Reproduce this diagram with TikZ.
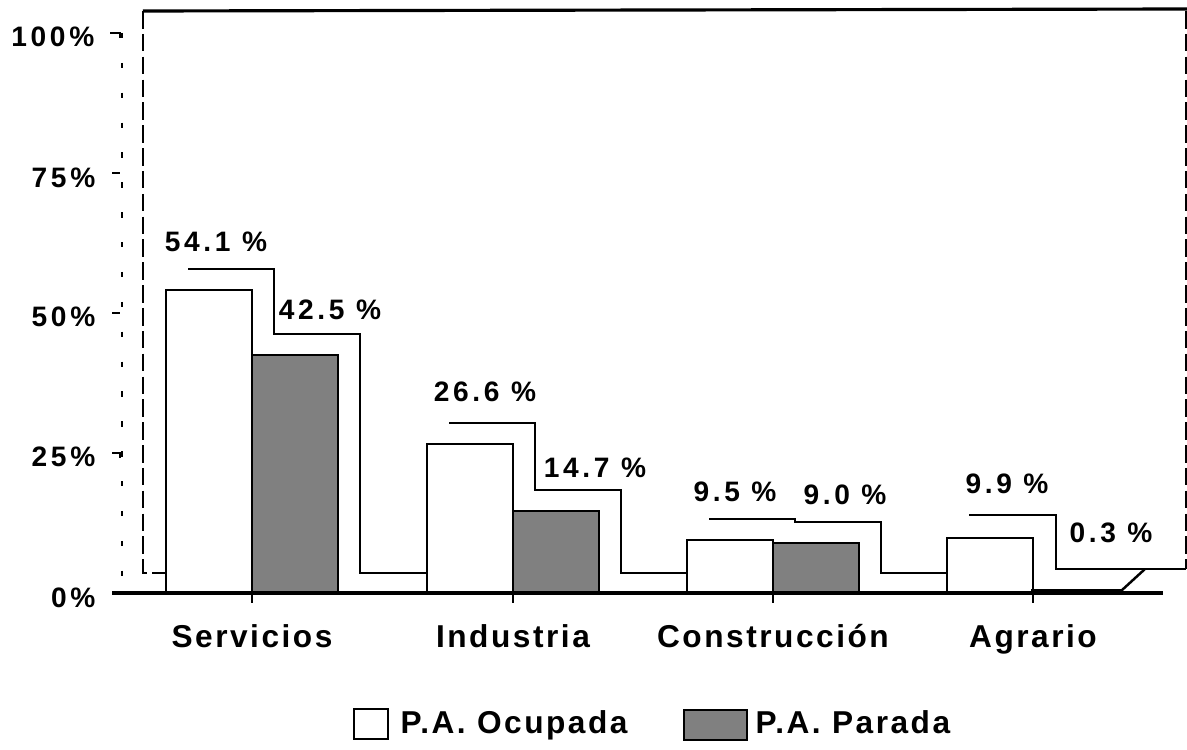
\documentclass[tikz,border=0pt]{standalone}
\usepackage{fontspec}
\setmainfont{Liberation Sans}
\newfontfamily\tickfont{Liberation Sans}[LetterSpace=13]
\newfontfamily\namefont{Liberation Sans}[LetterSpace=8]
\begin{document}
\begin{tikzpicture}[x=0.1mm,y=-0.1mm,
        bar/.style={draw,line width=0.8pt},
        parada/.style={bar,fill=black!50},
        back/.style={line width=0.7pt},
        val/.style={inner sep=0pt,font=\tickfont\bfseries\fontsize{8}{9}\selectfont},
        cat/.style={inner sep=0pt,anchor=base,font=\namefont\bfseries\fontsize{9}{10}\selectfont}]
    \useasboundingbox (0,0) rectangle (1187,750);
    % back wall
    \draw[back,line width=0.9pt] (143,11) -- (1187,9);
    \draw[back,dash pattern=on 5pt off 1.5pt] (143,11) -- (143,573) -- (166,573);
    \draw[back,dash pattern=on 5pt off 1.5pt] (1186,11) -- (1186,569);
    % y axis
    \draw[dash pattern=on 1.5pt off 7pt,line width=0.4pt] (122,33) -- (122,593);
    \draw[line width=0.7pt] (110,33) -- (120,33) -- (120,38);
    \draw[line width=0.7pt] (112,173) -- (120,173);
    \draw[line width=0.7pt] (112,313) -- (120,313);
    \draw[line width=0.7pt] (112,453) -- (120,453) -- (120,458);
    \node[val,anchor=east] (y100) at (95,37) {100\%};
    \node[val,anchor=east] (y75) at (96,178) {75\%};
    \node[val,anchor=east] (y50) at (96,317) {50\%};
    \node[val,anchor=east] (y25) at (96,457) {25\%};
    \node[val,anchor=east] (y0) at (96,598) {0\%};
    % shadows of the bars
    \draw[back] (188,269) -- (274,269) -- (274,334) -- (360,334) -- (360,573) -- (427,573);
    \draw[back] (449,423) -- (535,423) -- (535,490) -- (621,490) -- (621,573) -- (687,573);
    \draw[back] (709,519) -- (795,519) -- (795,522) -- (881,522) -- (881,573) -- (947,573);
    \draw[back] (969,515) -- (1056,515) -- (1056,569) -- (1186,569);
    \draw[back] (1121,591) -- (1145,569);
    % bars
    \draw[bar,fill=white] (166,593) rectangle (252,290);
    \draw[parada] (252,593) rectangle (338,355);
    \draw[bar,fill=white] (427,593) rectangle (513,444);
    \draw[parada] (513,593) rectangle (599,511);
    \draw[bar,fill=white] (687,593) rectangle (773,540);
    \draw[parada] (773,593) rectangle (859,543);
    \draw[bar,fill=white] (947,593) rectangle (1033,538);
    \draw[parada,line width=1pt] (1033,593) rectangle (1121,591);
    % x axis
    \draw[line width=1.1pt] (112,593) -- (1163,593);
    \draw[line width=0.6pt] (252,593) -- (252,603);
    \draw[line width=0.6pt] (513,593) -- (513,603);
    \draw[line width=0.6pt] (773,593) -- (773,603);
    \draw[line width=0.6pt] (1033,593) -- (1033,603);
    % values
    \node[val] (v1) at (216,242) {54.1 \%};
    \node[val] (v2) at (330,310) {42.5 \%};
    \node[val] (v3) at (485,392) {26.6 \%};
    \node[val] (v4) at (595,468) {14.7 \%};
    \node[val] (v5) at (735,492) {9.5 \%};
    \node[val] (v6) at (845,495) {9.0 \%};
    \node[val] (v7) at (1007,484) {9.9 \%};
    \node[val] (v8) at (1111,533) {0.3 \%};
    % categories
    \node[cat] (serv) at (252,648) {Servicios};
    \node[cat] (ind) at (513,648) {Industria};
    \node[cat] (cons) at (773,648) {Construcción};
    \node[cat] (agr) at (1033,648) {Agrario};
    % legend
    \draw[bar,fill=white] (354,709) rectangle (388,739);
    \node[cat,anchor=base west] (ocup) at (400,734) {P.A. Ocupada};
    \draw[parada] (684,710) rectangle (747,740);
    \node[cat,anchor=base west] (par) at (755,734) {P.A. Parada};
\end{tikzpicture}
\end{document}
